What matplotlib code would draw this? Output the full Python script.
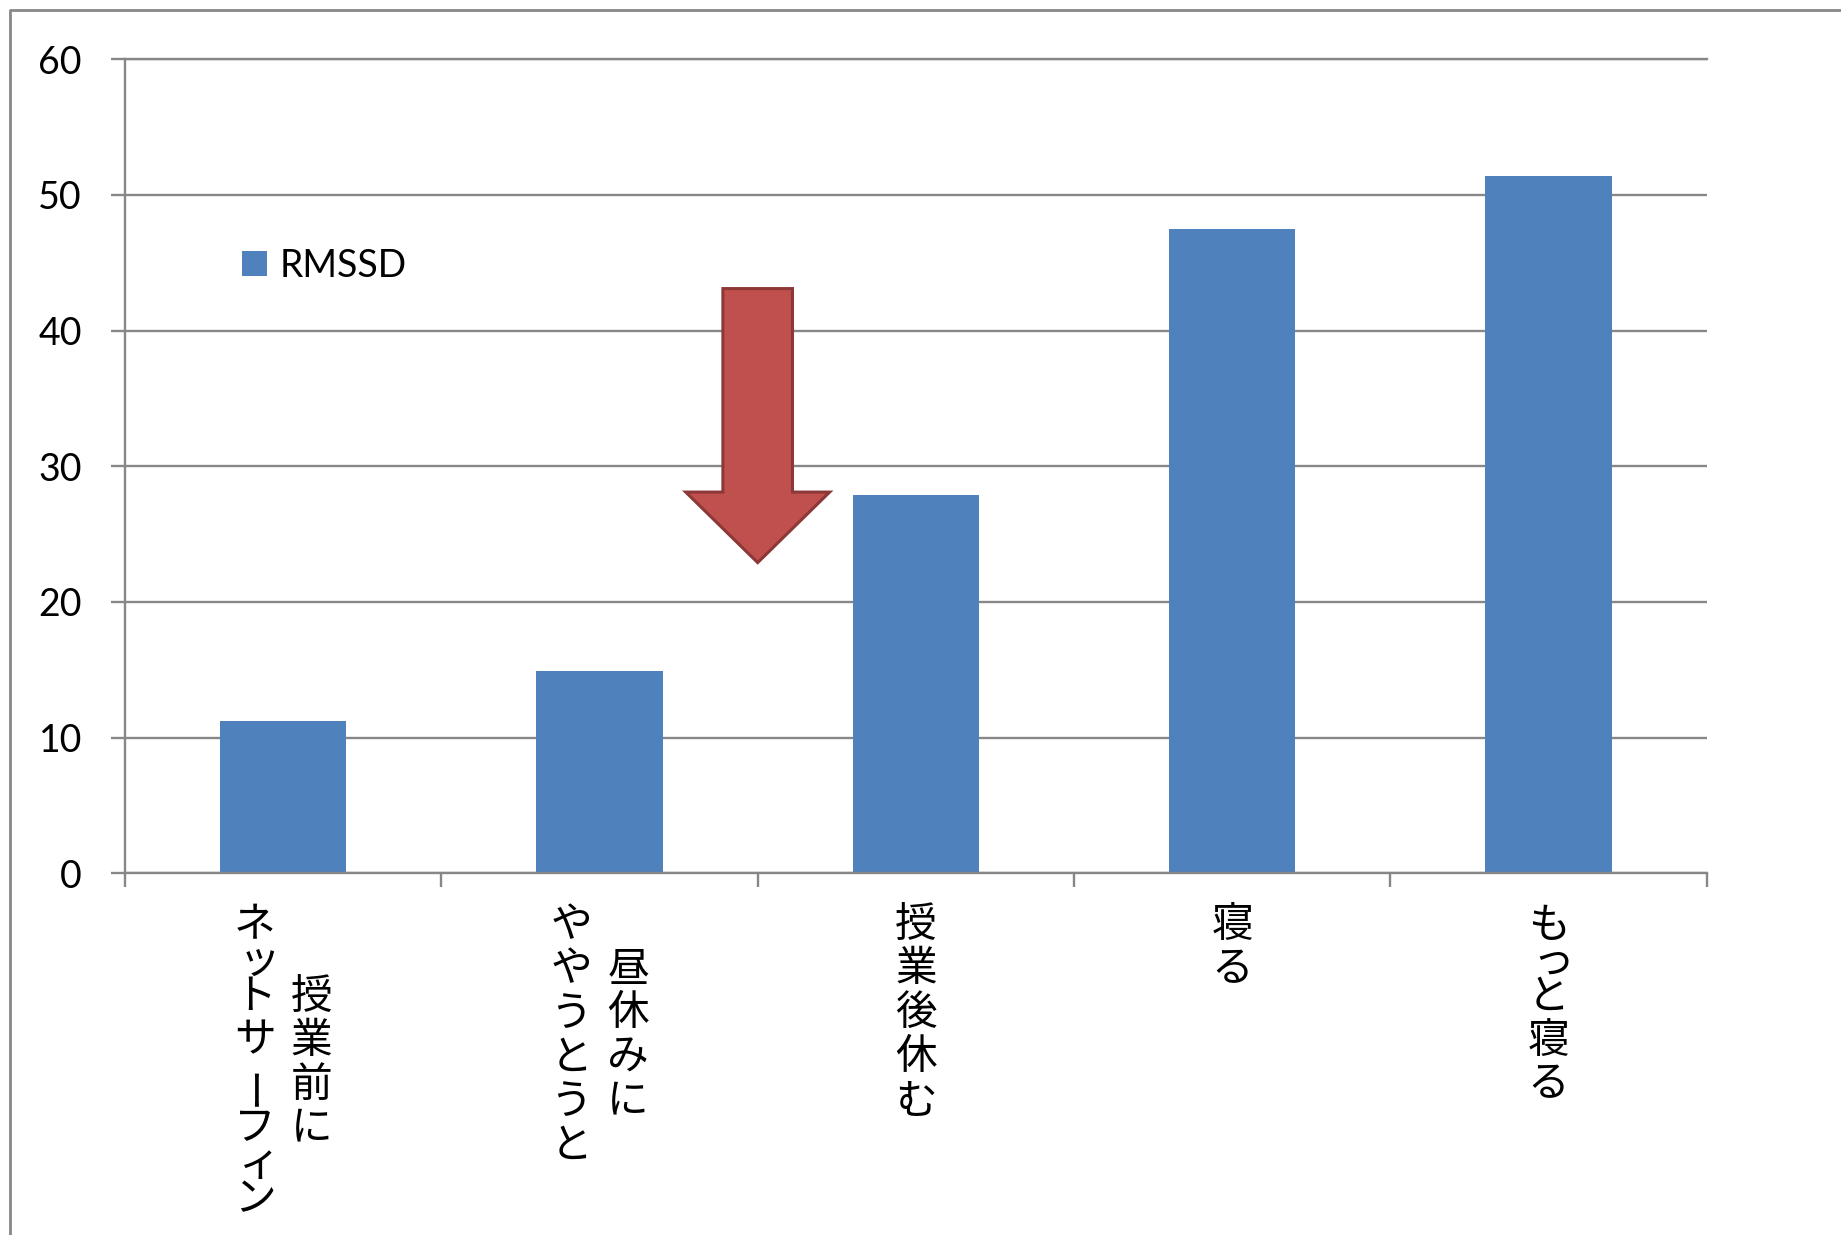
import matplotlib
matplotlib.use('Agg')
import matplotlib.pyplot as plt
from matplotlib.patches import FancyArrow
from matplotlib.lines import Line2D
from matplotlib import transforms

plt.rcParams['font.family'] = ['Lato', 'Noto Sans CJK JP', 'DejaVu Sans']

# RMSSD per activity
labels = ['授業前に\nネットサーフィン', '昼休みに\nややうとうと', '授業後休む', '寝る', 'もっと寝る']
rmssd = [11.2, 14.9, 27.9, 47.5, 51.4]
y_ticks = [0, 10, 20, 30, 40, 50, 60]

# red "drop" arrow between the 2nd and 3rd bars
arrow_x = 1.5
arrow_top = 43.1
arrow_tip = 22.9

BAR_COLOR = '#4F81BD'
LINE_GRAY = '#878787'
SMALL_KANA = set('ッィャュョァゥェォっゃゅょぁぃぅぇぉ')

W, H = 1841, 1235
fig = plt.figure(figsize=(W / 100, H / 100), dpi=100)
ax = fig.add_axes([125 / W, 1 - 873.3 / H, (1706.7 - 125) / W, (873.3 - 59.3) / H])

x = list(range(len(rmssd)))
ax.bar(x, rmssd, width=0.4, color=BAR_COLOR, label='RMSSD', zorder=2)

ax.set_xlim(-0.5, len(rmssd) - 0.5)
ax.set_ylim(0, 60)
ax.set_yticks(y_ticks)
ax.set_xticks([i - 0.5 for i in range(len(rmssd) + 1)])
ax.set_xticklabels([])
ax.set_axisbelow(True)
ax.yaxis.grid(True, color=LINE_GRAY, linewidth=1.7)

for side in ['left', 'bottom', 'top']:
    ax.spines[side].set_color(LINE_GRAY)
    ax.spines[side].set_linewidth(1.7)
ax.spines['right'].set_visible(False)

ax.tick_params(axis='both', direction='out', length=10, width=1.7, color=LINE_GRAY)
ax.tick_params(axis='y', labelsize=27, pad=21)

# arrow
arr = FancyArrow(arrow_x, arrow_top, 0, arrow_tip - arrow_top, width=0.22,
                 head_width=0.455, head_length=5.2, length_includes_head=True,
                 facecolor='#C0504D', edgecolor='#8C3836', linewidth=2.2,
                 joinstyle='miter', zorder=4)
ax.add_patch(arr)

# legend
ax.legend(loc='center left', bbox_to_anchor=(242 / W, 1 - 266 / H),
          bbox_transform=fig.transFigure, frameon=False, borderpad=0,
          borderaxespad=0, handlelength=0.66, handleheight=0.66,
          handletextpad=0.34, prop={'family': 'Lato', 'size': 27})

# vertical (tategaki) category labels, lines from right to left
pitch = 44
small_pitch = 27
col_gap = 57
top_px = 904
base = transforms.blended_transform_factory(ax.transData, fig.transFigure)


def column_height(line):
    return sum(small_pitch if ch in SMALL_KANA else pitch for ch in line)


for i, label in enumerate(labels):
    lines = label.split('\n')
    block_h = max(column_height(l) for l in lines)
    ncol = len(lines)
    for j, line in enumerate(lines):
        dx = ((ncol - 1) / 2 - j) * col_gap
        y = (block_h - column_height(line)) / 2
        for ch in line:
            adv = small_pitch if ch in SMALL_KANA else pitch
            cy = y + adv / 2
            ox = dx
            if ch in SMALL_KANA:
                ox += 5
            elif ch == 'ー':
                ox += 4
            tr = transforms.offset_copy(base, fig=fig, x=ox, y=-cy, units='dots')
            ax.text(i, 1 - top_px / H, ch, transform=tr, ha='center', va='center',
                    rotation=90 if ch == 'ー' else 0, rotation_mode='anchor',
                    fontsize=30, family=['Noto Sans CJK JP'], clip_on=False)
            y += adv

# chart area border (left and top edges)
fig.add_artist(Line2D([10 / W, 10 / W, 1], [0, 1 - 9.5 / H, 1 - 9.5 / H],
                      transform=fig.transFigure, color=LINE_GRAY, linewidth=2.0))

fig.savefig('out.png', dpi=100)
